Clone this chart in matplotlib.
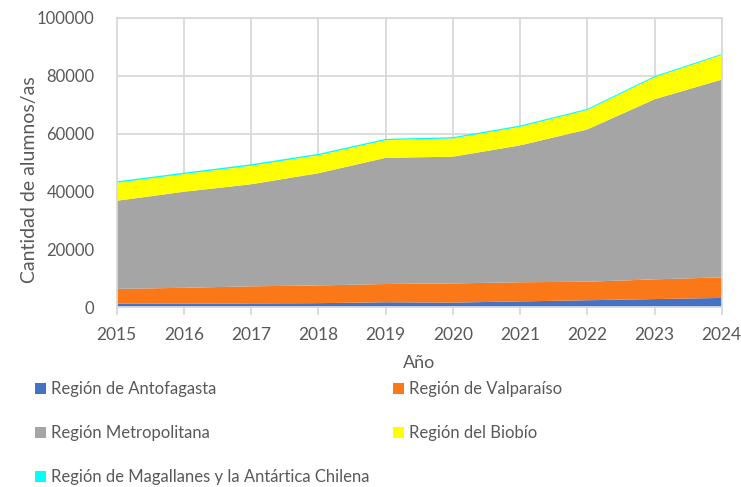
import numpy as np
import matplotlib.pyplot as plt
from matplotlib.patches import Patch

years = [2015, 2016, 2017, 2018, 2019, 2020, 2021, 2022, 2023, 2024]
antofagasta = [1300, 1300, 1400, 1500, 1800, 1700, 2100, 2500, 2900, 3300]
valparaiso = [5100, 5500, 5900, 6100, 6300, 6600, 6600, 6400, 6800, 7100]
metropolitana = [30400, 33100, 35200, 38700, 43500, 43700, 47200, 52500, 62100, 68200]
biobio = [6200, 6100, 6400, 6200, 6100, 6300, 6400, 6700, 7600, 8500]
magallanes = [500, 500, 500, 500, 450, 450, 450, 400, 400, 350]

labels = ["Región de Antofagasta", "Región de Valparaíso", "Región Metropolitana",
          "Región del Biobío", "Región de Magallanes y la Antártica Chilena"]
colors = ["#4472C4", "#FA7818", "#A5A5A5", "#FFFF00", "#00FFFF"]

plt.rcParams['font.family'] = ['Lato', 'DejaVu Sans']
txt = "#595959"

fig = plt.figure(figsize=(7.41, 4.87), dpi=100)
ax = fig.add_axes([0.1575, 0.3686, 0.8165, 0.5954])

ax.stackplot(years, antofagasta, valparaiso, metropolitana, biobio, magallanes,
             colors=colors, linewidth=0, zorder=2)

ax.set_xlim(2015, 2024)
ax.set_ylim(0, 100000)
ax.set_xticks(years)
ax.set_yticks(np.arange(0, 100001, 20000))
ax.grid(True, color="#d9d9d9", linewidth=1.3, zorder=0)
ax.set_axisbelow(True)
for s in ax.spines.values():
    s.set_color("#d9d9d9")
    s.set_linewidth(1.3)
ax.tick_params(axis='x', colors="#d9d9d9", length=6, width=1.3, labelcolor=txt,
               labelsize=12.5, pad=8)
ax.tick_params(axis='y', length=0, labelcolor=txt, labelsize=12, pad=16)

ax.set_xlabel("Año", color=txt, fontsize=13, labelpad=9)
ax.set_ylabel("Cantidad de alumnos/as", color=txt, fontsize=14)
ax.yaxis.set_label_coords(-0.13, 0.44)

handles = [Patch(facecolor=c, edgecolor='none') for c in colors]
order = [0, 2, 4, 1, 3]
fig.legend([handles[i] for i in order], [labels[i] for i in order],
           loc='upper left', bbox_to_anchor=(0.038, 0.231), ncol=2, frameon=False,
           fontsize=12, labelcolor=txt, handlelength=0.65, handleheight=0.65,
           handletextpad=0.3, labelspacing=1.68, columnspacing=1.45, borderaxespad=0)

fig.savefig("out.png", dpi=100)
